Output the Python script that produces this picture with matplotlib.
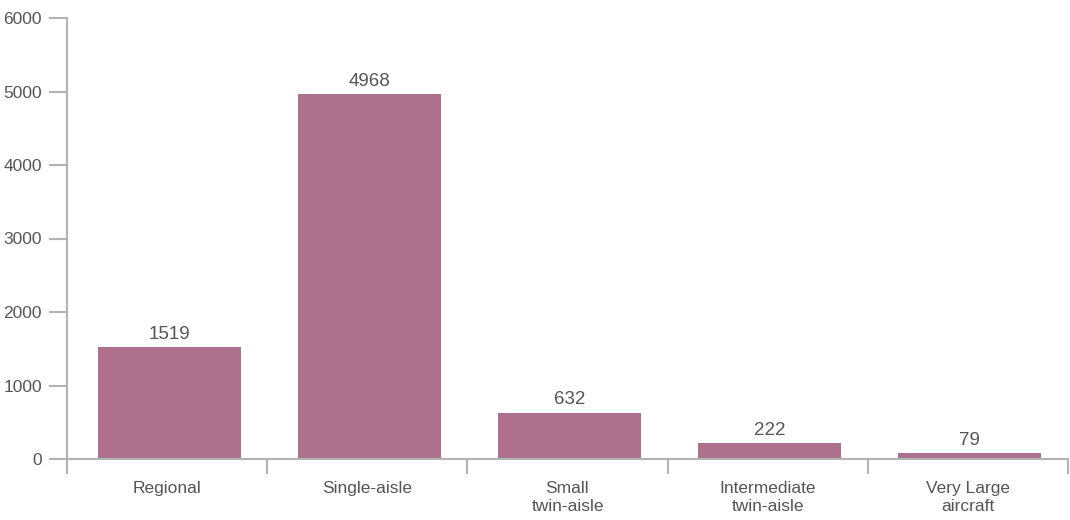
import matplotlib.pyplot as plt
from matplotlib import font_manager

# data
categories = ["Regional", "Single-aisle", "Small\ntwin-aisle",
              "Intermediate\ntwin-aisle", "Very Large\naircraft"]
deliveries = [1519, 4968, 632, 222, 79]
y_ticks = [0, 1000, 2000, 3000, 4000, 5000, 6000]

bar_color = "#ad708d"
text_color = "#555555"
axis_color = "#b3b3b3"

names = [f.name for f in font_manager.fontManager.ttflist]
if "Liberation Sans Narrow" in names:
    plt.rcParams['font.family'] = ["Liberation Sans Narrow", "DejaVu Sans"]
else:
    plt.rcParams['font.family'] = ["Liberation Sans", "DejaVu Sans"]

fig = plt.figure(figsize=(10.7, 5.2), dpi=100)
ax = fig.add_axes([67 / 1070, 1 - 459 / 520, 1001 / 1070, 441 / 520])

x = list(range(len(categories)))
bars = ax.bar([xi + 0.01 for xi in x], deliveries, width=0.715,
              color=bar_color, zorder=2)

#value labels above each bar
for xi, v in zip(x, deliveries):
    ax.annotate(str(v), (xi + 0.01, v), xytext=(0, 3), textcoords="offset points",
                ha="center", va="bottom", fontsize=13.5, color=text_color)

ax.set_xlim(-0.5, len(categories) - 0.5)
ax.set_ylim(0, 6000)

# category boundary ticks (no labels), names on minor ticks
ax.set_xticks([i - 0.5 for i in range(len(categories) + 1)])
ax.set_xticklabels([])
ax.set_xticks(x, minor=True)
ax.set_xticklabels(categories, minor=True, fontsize=12.5, color=text_color,
                   linespacing=1.2)
ax.tick_params(axis="x", which="major", length=11, width=1.5, color=axis_color)
ax.tick_params(axis="x", which="minor", length=0, pad=16)

ax.set_yticks(y_ticks)
ax.set_yticklabels([str(t) for t in y_ticks], fontsize=12.5, color=text_color)
ax.tick_params(axis="y", length=13, width=1.5, color=axis_color, pad=5)

for side in ["top", "right"]:
    ax.spines[side].set_visible(False)
for side in ["left", "bottom"]:
    ax.spines[side].set_color(axis_color)
    ax.spines[side].set_linewidth(1.5)

fig.savefig("out.png", dpi=100)
